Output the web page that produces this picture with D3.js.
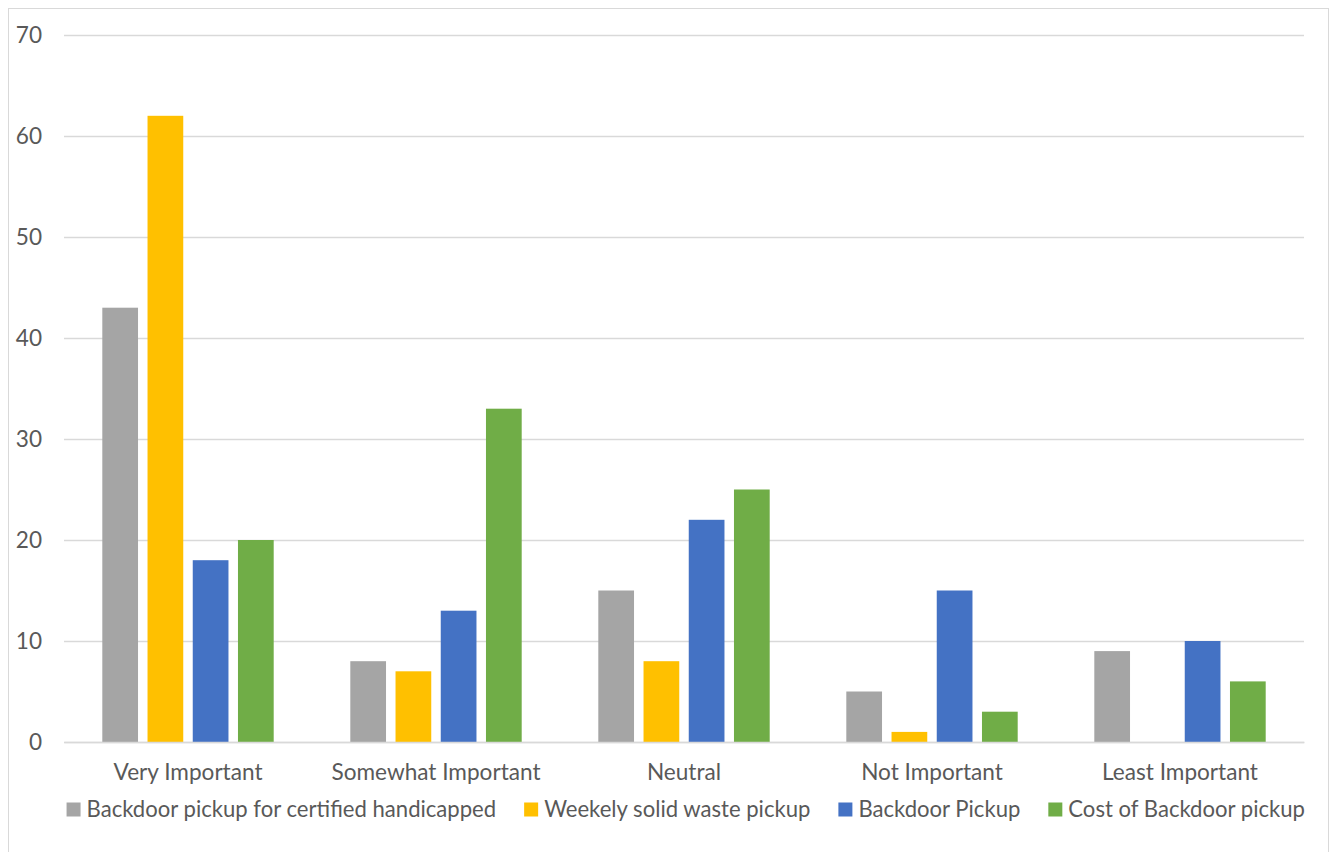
<!DOCTYPE html>
<html>
<head>
<meta charset="utf-8">
<script src="https://cdn.jsdelivr.net/npm/d3@7"></script>
<style>
  html, body { margin: 0; padding: 0; background: #fff; }
  svg { display: block; }
  text { font-family: Lato, "Open Sans", sans-serif; fill: #595959; }
</style>
</head>
<body>
<svg id="chart" width="1336" height="852"></svg>
<script>
const categories = ["Very Important", "Somewhat Important", "Neutral", "Not Important", "Least Important"];
const seriesNames = ["Backdoor pickup for certified handicapped", "Weekely solid waste pickup", "Backdoor Pickup", "Cost of Backdoor pickup"];
const seriesColors = ["#A5A5A5", "#FFC000", "#4472C4", "#70AD47"];
const handicappedValues = [43, 8, 15, 5, 9];
const weeklyValues = [62, 7, 8, 1, 0];
const backdoorValues = [18, 13, 22, 15, 10];
const costValues = [20, 33, 25, 3, 6];
const yTicks = [0, 10, 20, 30, 40, 50, 60, 70];

const seriesValues = [handicappedValues, weeklyValues, backdoorValues, costValues];

const svg = d3.select("#chart");
const plot = { left: 64, right: 1304, top: 35, bottom: 742 };
const fontSize = 22.6;
const legendFontSize = 22.1;

// chart border
svg.append("rect")
  .attr("x", 8.5).attr("y", 8.5)
  .attr("width", 1320).attr("height", 860)
  .attr("fill", "#fff").attr("stroke", "#D9D9D9").attr("stroke-width", 1);

const y = d3.scaleLinear().domain([0, 70]).range([plot.bottom, plot.top]);
const x0 = d3.scaleBand().domain(categories).range([plot.left, plot.right]).paddingInner(0).paddingOuter(0);
const x1 = d3.scaleBand().domain(seriesNames).range([0, x0.bandwidth()]).paddingInner(0.21).paddingOuter(0.847);

// gridlines + y labels
const yAxis = d3.axisLeft(y).tickValues(yTicks).tickSize(-(plot.right - plot.left)).tickPadding(22);
const gy = svg.append("g").attr("transform", `translate(${plot.left},0)`).call(yAxis);
gy.select(".domain").remove();
gy.selectAll(".tick line").attr("stroke", "#D9D9D9").attr("stroke-width", 1.3);
gy.selectAll(".tick text")
  .style("font-size", fontSize + "px")
  .style("fill", "#595959")
  .attr("font-family", null);

// bars
const rows = categories.map((c, i) => ({ cat: c, vals: seriesNames.map((s, j) => ({ s, j, v: seriesValues[j][i] })) }));
const groups = svg.append("g").selectAll("g").data(rows).join("g")
  .attr("transform", d => `translate(${x0(d.cat)},0)`);
groups.selectAll("rect").data(d => d.vals.filter(e => e.v > 0)).join("rect")
  .attr("x", d => x1(d.s))
  .attr("width", x1.bandwidth())
  .attr("y", d => y(d.v))
  .attr("height", d => y(0) - y(d.v))
  .attr("fill", d => seriesColors[d.j]);

// x-axis (category labels)
const xAxis = d3.axisBottom(x0).tickSize(0).tickPadding(22);
const gx = svg.append("g").attr("transform", `translate(0,${plot.bottom})`).call(xAxis);
gx.select(".domain").attr("stroke", "#D9D9D9").attr("stroke-width", 1.3);
gx.selectAll(".tick text")
  .style("font-size", fontSize + "px")
  .style("fill", "#595959")
  .attr("font-family", null);

// legend
const legend = svg.append("g");
const sq = 14, gapText = 6, gapItem = 28;
const items = legend.selectAll("g").data(seriesNames).join("g");
items.append("rect").attr("width", sq).attr("height", sq).attr("y", -sq)
  .attr("fill", (d, i) => seriesColors[i]);
items.append("text").attr("x", sq + gapText).attr("y", 0)
  .style("font-size", legendFontSize + "px").text(d => d);
let cx = 0;
const offsets = [];
items.each(function(d, i) {
  const tw = d3.select(this).select("text").node().getComputedTextLength();
  offsets.push(cx);
  cx += sq + gapText + tw + (i < seriesNames.length - 1 ? gapItem : 0);
});
const legendWidth = cx;
const legendStart = (67.5 + 1304) / 2 - legendWidth / 2;
items.attr("transform", (d, i) => `translate(${legendStart + offsets[i]},816.5)`);
</script>
</body>
</html>
